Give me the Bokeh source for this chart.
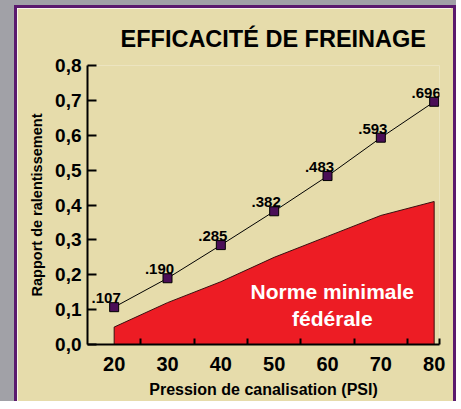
from bokeh.plotting import figure
from bokeh.models import Range1d, FixedTicker, Label, Spacer
from bokeh.layouts import row, column
from bokeh.embed import file_html
from bokeh.resources import INLINE
from bokeh.core.properties import value

# ---- data ----
pressure = [20, 30, 40, 50, 60, 70, 80]
ratio = [0.107, 0.190, 0.285, 0.382, 0.483, 0.593, 0.696]
ratio_labels = [".107", ".190", ".285", ".382", ".483", ".593", ".696"]
federal_min = [0.05, 0.12, 0.18, 0.25, 0.31, 0.37, 0.41]
x_ticks = [20, 30, 40, 50, 60, 70, 80]
x_minor = [25, 35, 45, 55, 65, 75, 80.95]
y_ticks = [0.0, 0.1, 0.2, 0.3, 0.4, 0.5, 0.6, 0.7, 0.8]
y_tick_labels = ["0,0", "0,1", "0,2", "0,3", "0,4", "0,5", "0,6", "0,7", "0,8"]

BEIGE = "#e6dcab"
PURPLE = "#5b1a6e"
GREY = "#a1a1a7"
RED = "#ed1c24"
MARK = "#4a0f57"
FONT = "Liberation Sans"

p = figure(width=434, height=393, output_backend="svg", toolbar_location=None,
           x_range=Range1d(15, 81.0), y_range=Range1d(0, 0.8),
           min_border_left=70, min_border_right=12, min_border_top=57, min_border_bottom=57,
           title="EFFICACITÉ DE FREINAGE")
p.background_fill_color = BEIGE
p.border_fill_color = BEIGE
p.outline_line_color = None
p.grid.visible = False

p.title.align = "left"
p.title.offset = 33
p.title.standoff = 27
p.title.text_font = FONT
p.title.text_font_style = "bold"
p.title.text_font_size = "23.5px"
p.title.text_color = "black"

# federal minimum area
p.patch([pressure[0]] + pressure + [pressure[-1]], [0] + federal_min + [0],
        fill_color=RED, line_color="#3a1010", line_width=1)

# measured line
p.line(pressure, ratio, line_color="black", line_width=1)
p.scatter(pressure, ratio, marker="square", size=9, fill_color=MARK, line_color="black", line_width=1)
p.text(pressure, ratio, text=ratio_labels, text_font=value(FONT), text_font_style="bold",
       text_font_size="15px", text_align="center", text_baseline="alphabetic",
       x_offset=-8, y_offset=-9, text_color="black")

# axes
xa = p.xaxis[0]
xa.ticker = FixedTicker(ticks=x_ticks, minor_ticks=x_minor)
xa.axis_line_width = 2
xa.axis_line_color = "black"
xa.major_tick_in = 0
xa.major_tick_out = 0
xa.minor_tick_in = 6
xa.minor_tick_out = 0
xa.minor_tick_line_width = 2
xa.minor_tick_line_color = "black"
xa.major_label_text_font = FONT
xa.major_label_text_font_style = "bold"
xa.major_label_text_font_size = "20px"
xa.major_label_text_color = "black"
xa.major_label_standoff = 12
xa.axis_label = "Pression de canalisation (PSI)"
xa.axis_label_text_font = FONT
xa.axis_label_text_font_style = "bold"
xa.axis_label_text_font_size = "16px"
xa.axis_label_text_color = "black"
xa.axis_label_standoff = 7

ya = p.yaxis[0]
ya.ticker = FixedTicker(ticks=y_ticks, minor_ticks=[])
ya.major_label_overrides = {t: l for t, l in zip(y_ticks, y_tick_labels)}
ya.axis_line_width = 2
ya.axis_line_color = "black"
ya.major_tick_in = 9
ya.major_tick_out = 0
ya.major_tick_line_width = 2
ya.major_tick_line_color = "black"
ya.minor_tick_in = 0
ya.minor_tick_out = 0
ya.major_label_text_font = FONT
ya.major_label_text_font_style = "bold"
ya.major_label_text_font_size = "19px"
ya.major_label_text_color = "black"
ya.major_label_standoff = 6
ya.axis_label = "Rapport de ralentissement"
ya.axis_label_text_font = FONT
ya.axis_label_text_font_style = "bold"
ya.axis_label_text_font_size = "14.5px"
ya.axis_label_text_color = "black"
ya.axis_label_standoff = 7

# texts inside the red area
p.add_layout(Label(x=60.9, y=0.152, text="Norme minimale", text_font=FONT,
                   text_font_style="bold", text_font_size="21px", text_align="center",
                   text_baseline="middle", text_color="white"))
p.add_layout(Label(x=60.9, y=0.0745, text="fédérale", text_font=FONT,
                   text_font_style="bold", text_font_size="21px", text_align="center",
                   text_baseline="middle", text_color="white"))

# page background and panel border
grey_top = Spacer(width=456, height=5, styles={"background-color": GREY})
grey_left = Spacer(width=14, height=396, styles={"background-color": GREY})
purple_top = Spacer(width=442, height=3, styles={"background-color": PURPLE})
purple_l = Spacer(width=3, height=393, styles={"background-color": PURPLE})
gap_r = Spacer(width=2, height=393, styles={"background-color": BEIGE})
purple_r = Spacer(width=3, height=393, styles={"background-color": PURPLE})
panel = column(purple_top, row(purple_l, p, gap_r, purple_r, spacing=0), spacing=0)
layout = column(grey_top, row(grey_left, panel, spacing=0), spacing=0)

open("out.html", "w").write(file_html(layout, INLINE))
